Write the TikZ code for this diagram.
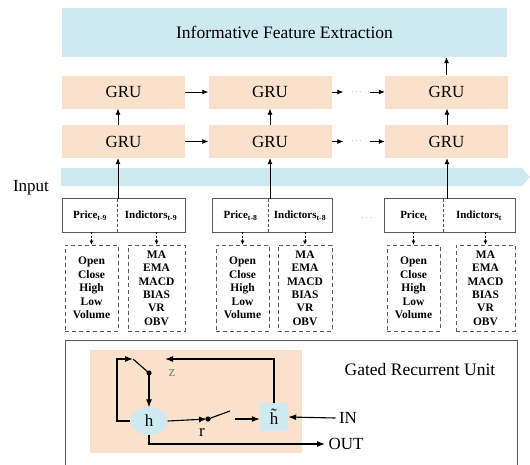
\documentclass[tikz,border=0pt]{standalone}
\usepackage{fontspec}
\setmainfont{Liberation Serif}
\usepackage{tikz}
\usetikzlibrary{positioning,calc,arrows.meta,shapes}
\definecolor{featblue}{RGB}{206,234,240}
\definecolor{gruorange}{RGB}{250,225,204}
\definecolor{boxgray}{RGB}{90,90,90}

\tikzset{
  big/.style={font=\fontsize{17}{20}\selectfont},
  gru/.style={big, fill=gruorange, minimum width=123pt, minimum height=33pt, inner sep=0pt},
  ar/.style={-{Latex[length=6pt,width=5pt]}, line width=.8pt},
  bar/.style={-{Latex[length=8pt,width=6pt]}, line width=1.1pt},
  dar/.style={-{Latex[length=4pt,width=4pt]}, dashed, dash pattern=on 2pt off 1.5pt, line width=.6pt},
  pbox/.style={font=\bfseries\fontsize{11}{12}\selectfont, minimum height=33pt, inner sep=0pt},
  sub/.style={draw=boxgray, dashed, dash pattern=on 4pt off 3pt, line width=.9pt, minimum height=86pt,
    inner sep=0pt, align=center, font=\bfseries\fontsize{11.5}{13.4}\selectfont},
  dotsn/.style={minimum width=26pt, inner sep=0pt, text=gray, font=\small}
}

\begin{document}
\begin{tikzpicture}[x=1pt,y=-1pt]
\useasboundingbox (0,0) rectangle (530,464);

% feature extraction
\node[big, fill=featblue, minimum width=445pt, minimum height=49pt, font=\fontsize{17.5}{20}\selectfont] (feat) at (284.5,32.5) {Informative Feature Extraction};

% two GRU layers
\node[gru] (gu1) at (123.5,92) {GRU};
\node[gru] (gu2) at (270,92) {GRU};
\node[gru] (gu3) at (446.5,92) {GRU};
\node[gru] (gl1) at (123.5,141.5) {GRU};
\node[gru] (gl2) at (270,141.5) {GRU};
\node[gru] (gl3) at (446.5,141.5) {GRU};
\node[dotsn] (du) at (356.5,92) {$\cdots$};
\node[dotsn] (dl) at (356.5,141.5) {$\cdots$};

\draw[ar] (gu1) -- (gu2);
\draw[ar] (gu2) -- (du);
\draw[ar] (du) -- (gu3);
\draw[ar] (gl1) -- (gl2);
\draw[ar] (gl2) -- (dl);
\draw[ar] (dl) -- (gl3);
\draw[ar] (gu3.north) -- (gu3.north |- feat.south);

\coordinate (a1) at (118,0);
\coordinate (a2) at (270,0);
\coordinate (a3) at (447,0);
\foreach \n in {1,2,3}
  \draw[ar] (a\n |- gl\n.north) -- (a\n |- gu\n.south);

% input band
\fill[featblue] (61,168) -- (522,168) -- (530,177) -- (522,186) -- (61,186) -- cycle;
\node[big, anchor=base] (input) at (31,191) {Input};

% price / indicator boxes
\node[pbox, minimum width=54pt] (pr1) at (90,215.5) {Price\textsubscript{t-9}};
\node[pbox, minimum width=68pt] (in1) at (151,215.5) {Indictors\textsubscript{t-9}};
\node[pbox, minimum width=55pt] (pr2) at (240.5,215.5) {Price\textsubscript{t-8}};
\node[pbox, minimum width=64pt] (in2) at (300,215.5) {Indictors\textsubscript{t-8}};
\node[pbox, minimum width=58pt] (pr3) at (414,215.5) {Price\textsubscript{t}};
\node[pbox, minimum width=72pt] (in3) at (479,215.5) {Indictors\textsubscript{t}};
\node[dotsn] (dp) at (367,218) {$\cdots$};

\foreach \n in {1,2,3}{
  \draw[line width=.8pt, boxgray] (pr\n.north west) rectangle (in\n.south east);
  \draw[dashed, dash pattern=on 3pt off 2pt, line width=.8pt, boxgray] (pr\n.north east) -- (pr\n.south east);
  \draw[ar] (a\n |- pr\n.north) -- (a\n |- gl\n.south);
}

% dashed detail boxes
\node[sub, minimum width=53pt] (po1) at (91.5,288) {Open\\Close\\High\\Low\\Volume};
\node[sub, minimum width=57pt] (io1) at (156.5,288) {MA\\EMA\\MACD\\BIAS\\VR\\OBV};
\node[sub, minimum width=53pt] (po2) at (242.5,288) {Open\\Close\\High\\Low\\Volume};
\node[sub, minimum width=54pt] (io2) at (305,288) {MA\\EMA\\MACD\\BIAS\\VR\\OBV};
\node[sub, minimum width=53pt] (po3) at (413.5,288) {Open\\Close\\High\\Low\\Volume};
\node[sub, minimum width=59pt] (io3) at (485.5,288) {MA\\EMA\\MACD\\BIAS\\VR\\OBV};

\foreach \n in {1,2,3}{
  \draw[dar] (po\n.north |- pr\n.south) -- (po\n.north);
  \draw[dar] (io\n.north |- in\n.south) -- (io\n.north);
}

% gated recurrent unit
\draw[boxgray, line width=.9pt] (65,340) rectangle (517,480);
\fill[gruorange] (90,350) rectangle (302,453);
\node[big, font=\fontsize{17.5}{20}\selectfont] (title) at (420,370) {Gated Recurrent Unit};

\node[big, ellipse, fill=featblue, minimum width=37pt, minimum height=27pt, inner sep=0pt] (h) at (149,421) {h};
\node[big, fill=featblue, minimum width=28pt, minimum height=28pt, inner sep=0pt] (ht) at (274,417) {\~{h}};
\node[big] (in) at (348,418) {IN};
\node[big] (out) at (346,444) {OUT};
\node[text=gray, font=\fontsize{15}{18}\selectfont] (zl) at (172,373) {z};
\node[big] (rl) at (202,432) {r};

\coordinate (zd) at (149,373);
\coordinate (zs) at (133,359);
\coordinate (rd) at (208,419);
\coordinate (rs) at (230,411);
\coordinate (rt) at (235,419);
\fill (zd) circle (2.6pt);
\fill (rd) circle (2.6pt);

\draw[bar] (h.west) -- (117,421) |- (zs);
\draw[line width=1.1pt] (zs) -- (zd);
\draw[bar] (zd) -- (h.north);
\draw[bar] (ht.north) |- (165,359);
\draw[bar] (h.east) -- ([xshift=-1pt]rd);
\draw[line width=1.1pt] (rd) -- (rs);
\draw[bar] (rt) -- (rt -| ht.west);
\draw[bar] (in.west) -- (ht.east);
\draw[bar] (h.south) |- (out.west);
\end{tikzpicture}
\end{document}
